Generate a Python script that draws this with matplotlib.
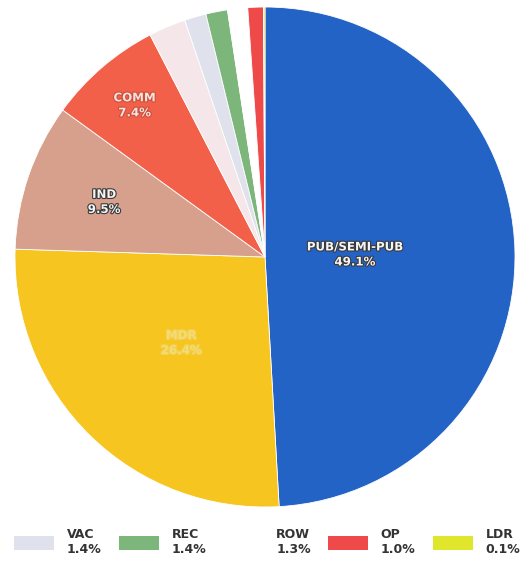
import matplotlib.pyplot as plt
import matplotlib.patheffects as pe
from matplotlib.patches import Patch
import numpy as np

# land use shares (%), clockwise from 12 o'clock
categories = ["PUB/SEMI-PUB", "MDR", "IND", "COMM", "OTHER", "VAC", "REC", "ROW", "OP", "LDR"]
shares = [49.1, 26.4, 9.5, 7.4, 2.4, 1.4, 1.4, 1.3, 1.0, 0.1]
colors = ["#2463c6", "#f6c520", "#d7a08c", "#f2604a", "#f5e7e9",
          "#dfe2ec", "#7db67b", "#ffffff", "#ef4a4a", "#e0e62c"]

# slices that get a label inside the pie, with radial position
inner_labels = {"PUB/SEMI-PUB": 0.36, "MDR": 0.48, "IND": 0.68, "COMM": 0.8}
legend_items = ["VAC", "REC", "ROW", "OP", "LDR"]

fig = plt.figure(figsize=(5.22, 5.61), dpi=100)
ax = fig.add_axes([15 / 522, 54 / 561, 500 / 522, 500 / 561])

wedges, _ = ax.pie(shares, colors=colors, startangle=90, counterclock=False,
                   wedgeprops=dict(edgecolor="white", linewidth=0.6))
ax.set_xlim(-1, 1)
ax.set_ylim(-1, 1)
ax.set_aspect("equal")

for w, name, val in zip(wedges, categories, shares):
    if name not in inner_labels:
        continue
    mid = np.deg2rad((w.theta1 + w.theta2) / 2)
    r = inner_labels[name]
    if name == "MDR":
        txt_color, stroke = "#f3dc74", "#f3cf52"
    elif name == "COMM":
        txt_color, stroke = "#fbe3dc", "#c9503e"
    else:
        txt_color, stroke = "#f4f4f4", "#3a3a3a"
    ax.text(r * np.cos(mid), r * np.sin(mid), f"{name}\n{val}%",
            ha="center", va="center", fontsize=8.5, fontweight="bold",
            color=txt_color, linespacing=1.2,
            path_effects=[pe.withStroke(linewidth=1.6, foreground=stroke)])

handles = []
labels = []
for name in legend_items:
    i = categories.index(name)
    handles.append(Patch(facecolor=colors[i], edgecolor="none"))
    labels.append(f"{name}\n{shares[i]}%")

leg = fig.legend(handles, labels, loc="lower center", bbox_to_anchor=(0.512, -0.012),
                 ncol=5, frameon=False, handlelength=3.2, handleheight=1.3,
                 handletextpad=1.0, columnspacing=1.4,
                 prop=dict(size=9, weight="bold"))
for t in leg.get_texts():
    t.set_color("#333333")

fig.savefig("out.png", dpi=100)
